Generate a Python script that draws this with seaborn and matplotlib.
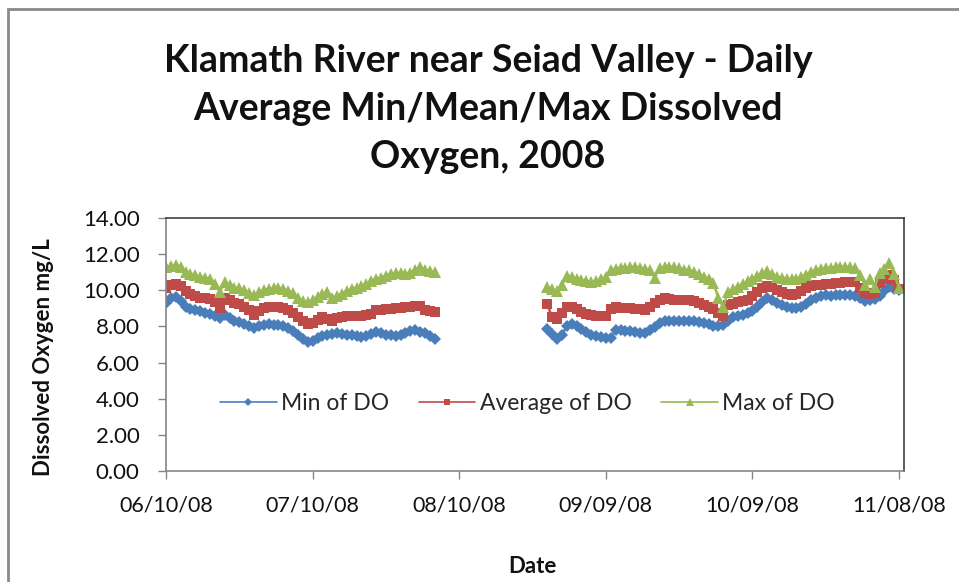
import numpy as np
import pandas as pd
import seaborn as sns
import matplotlib.pyplot as plt
from matplotlib.lines import Line2D
from matplotlib.patches import Rectangle

# x axis: days since 06/10/08, labelled every 30 days
tick_days = [0, 30, 60, 90, 120, 150]
tick_labels = ['06/10/08', '07/10/08', '08/10/08', '09/09/08', '10/09/08', '11/08/08']
y_ticks = [0, 2, 4, 6, 8, 10, 12, 14]

days_summer = list(range(0, 56))
days_fall = list(range(78, 151))

min_summer = [9.30, 9.55, 9.62, 9.40, 9.05, 8.95, 8.90, 8.85, 8.75, 8.70,
              8.60, 8.48, 8.65, 8.45, 8.32, 8.25, 8.15, 8.00, 7.92, 8.02,
              8.08, 8.12, 8.10, 8.08, 8.02, 7.92, 7.75, 7.50, 7.30, 7.15,
              7.22, 7.38, 7.45, 7.52, 7.58, 7.62, 7.60, 7.55, 7.50, 7.45,
              7.42, 7.45, 7.58, 7.70, 7.62, 7.55, 7.52, 7.48, 7.55, 7.62,
              7.72, 7.80, 7.68, 7.62, 7.45, 7.32]
avg_summer = [10.15, 10.30, 10.35, 10.25, 9.95, 9.80, 9.70, 9.60, 9.55, 9.50,
              9.35, 9.00, 9.55, 9.45, 9.30, 9.25, 9.10, 8.90, 8.62, 8.85,
              9.00, 9.08, 9.10, 9.05, 9.00, 8.92, 8.75, 8.50, 8.30, 8.15,
              8.20, 8.38, 8.50, 8.40, 8.28, 8.45, 8.52, 8.55, 8.55, 8.58,
              8.60, 8.62, 8.70, 8.90, 8.90, 8.95, 8.95, 9.00, 9.00, 9.05,
              9.08, 9.12, 9.15, 8.92, 8.85, 8.80]
max_summer = [11.30, 11.35, 11.40, 11.30, 11.00, 10.90, 10.85, 10.75, 10.70, 10.60,
              10.35, 9.90, 10.45, 10.30, 10.15, 10.10, 10.00, 9.85, 9.72, 9.90,
              10.02, 10.08, 10.10, 10.10, 10.05, 9.98, 9.85, 9.55, 9.40, 9.35,
              9.45, 9.65, 9.78, 9.90, 9.60, 9.70, 9.82, 9.95, 10.05, 10.15,
              10.25, 10.35, 10.50, 10.60, 10.70, 10.80, 10.92, 10.95, 10.95, 10.92,
              10.98, 11.15, 11.30, 11.15, 11.05, 11.00]

min_fall = [7.85, 7.60, 7.30, 7.55, 8.00, 8.15, 8.05, 7.85, 7.70, 7.55,
            7.45, 7.40, 7.38, 7.35, 7.80, 7.78, 7.75, 7.72, 7.70, 7.65,
            7.62, 7.80, 7.95, 8.20, 8.30, 8.30, 8.32, 8.30, 8.32, 8.30,
            8.28, 8.22, 8.18, 8.12, 8.05, 8.00, 8.10, 8.30, 8.50, 8.60,
            8.65, 8.72, 8.85, 9.10, 9.35, 9.60, 9.45, 9.30, 9.20, 9.10,
            9.02, 9.00, 9.10, 9.25, 9.45, 9.60, 9.70, 9.72, 9.70, 9.72,
            9.75, 9.72, 9.75, 9.70, 9.55, 9.40, 9.45, 9.50, 9.70, 9.95,
            10.20, 10.05, 10.00]
avg_fall = [9.25, 8.50, 8.40, 8.75, 9.05, 9.05, 8.95, 8.80, 8.70, 8.65,
            8.60, 8.55, 8.55, 8.95, 9.05, 9.02, 9.00, 9.00, 8.98, 8.95,
            8.90, 9.10, 9.30, 9.45, 9.55, 9.50, 9.48, 9.48, 9.45, 9.45,
            9.40, 9.30, 9.20, 9.10, 8.95, 8.75, 8.60, 9.20, 9.25, 9.35,
            9.40, 9.45, 9.70, 9.90, 10.10, 10.25, 10.20, 10.00, 9.90, 9.80,
            9.75, 9.80, 9.95, 10.15, 10.25, 10.28, 10.30, 10.35, 10.35, 10.40,
            10.42, 10.45, 10.48, 10.45, 10.15, 9.85, 9.80, 9.85, 10.40, 10.60,
            10.85, 10.55, 10.05]
max_fall = [10.20, 10.05, 9.95, 10.30, 10.80, 10.75, 10.65, 10.55, 10.50, 10.45,
            10.50, 10.60, 10.75, 11.10, 11.20, 11.25, 11.25, 11.30, 11.28, 11.25,
            11.20, 11.15, 10.70, 11.25, 11.30, 11.30, 11.28, 11.22, 11.15, 11.10,
            11.00, 10.90, 10.75, 10.60, 10.40, 9.60, 9.05, 9.90, 10.05, 10.20,
            10.35, 10.50, 10.62, 10.80, 10.95, 11.05, 10.90, 10.75, 10.70, 10.65,
            10.60, 10.65, 10.75, 10.85, 11.00, 11.10, 11.20, 11.22, 11.25, 11.28,
            11.28, 11.30, 11.30, 11.25, 10.85, 10.30, 10.60, 10.20, 10.95, 11.20,
            11.50, 10.90, 10.10]

series_names = ['Min of DO', 'Average of DO', 'Max of DO']
series_values = [(min_summer, min_fall), (avg_summer, avg_fall), (max_summer, max_fall)]
colors = ['#4A7EBB', '#BE4B48', '#98B954']
markers = ['D', 's', '^']
marker_sizes = [5.8, 6.8, 8.3]

sns.set_style('white')
plt.rcParams['font.family'] = ['Lato', 'DejaVu Sans']

fig = plt.figure(figsize=(9.59, 5.82), dpi=100)
ax = fig.add_axes([166 / 959, 1 - 471 / 582, 738 / 959, 253 / 582])

for name, (summer, fall), col, mk, ms in zip(series_names, series_values, colors, markers, marker_sizes):
    df = pd.DataFrame({
        'day': days_summer + days_fall,
        'value': summer + fall,
        'segment': ['summer'] * len(days_summer) + ['fall'] * len(days_fall),
    })
    sns.lineplot(data=df, x='day', y='value', units='segment', estimator=None,
                 color=col, marker=mk, markersize=ms, markeredgewidth=0,
                 linewidth=1.8, ax=ax, legend=False)

ax.set_xlim(0, 151)
ax.set_ylim(0, 14)
ax.set_xticks(tick_days)
ax.set_xticklabels(tick_labels)
ax.set_yticks(y_ticks)
ax.set_yticklabels([f'{v:.2f}' for v in y_ticks])
ax.tick_params(axis='y', direction='out', length=6, width=1, color='#868686',
               pad=13, labelsize=16, labelcolor='#111111', left=True)
ax.tick_params(axis='x', direction='out', length=6, width=1, color='#868686',
               pad=12, labelsize=15.5, labelcolor='#111111', bottom=True)

for side in ['left', 'bottom']:
    ax.spines[side].set_color('#868686')
    ax.spines[side].set_linewidth(1.2)
for side in ['top', 'right']:
    ax.spines[side].set_color('#404040')
    ax.spines[side].set_linewidth(1.2)

ax.set_ylabel('Dissolved Oxygen mg/L', fontsize=16, fontweight='bold', color='#111111')
ax.yaxis.set_label_coords(-0.152, 0.45)
ax.set_xlabel('Date', fontsize=16, fontweight='bold', color='#111111')
ax.xaxis.set_label_coords(0.497, -0.335)

handles = [Line2D([], [], color=c, marker=m, markersize=s * 0.7, markeredgewidth=0, linewidth=1.2)
           for c, m, s in zip(colors, markers, marker_sizes)]
ax.legend(handles, series_names, loc='center', bbox_to_anchor=(0.49, 0.265), ncol=3,
          frameon=False, fontsize=16.5, handlelength=2.45, handletextpad=0.2, columnspacing=1.3)

title_lines = ['Klamath River near Seiad Valley - Daily',
               'Average Min/Mean/Max Dissolved',
               'Oxygen, 2008']
for i, line in enumerate(title_lines):
    fig.text(488 / 959, 1 - (61 + 48 * i) / 582, line, ha='center', va='center',
             fontsize=27, fontweight='bold', color='#111111')

# outer chart frame
fig.patches.append(Rectangle((8 / 959, -0.05), 1.0, 1 - 9 / 582 + 0.05, transform=fig.transFigure,
                             fill=False, edgecolor='#8a8a8a', linewidth=2))

fig.savefig('out.png', dpi=100)
